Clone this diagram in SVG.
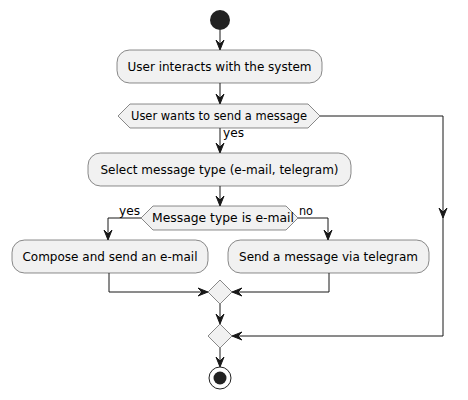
<svg xmlns="http://www.w3.org/2000/svg" width="468" height="400" viewBox="0 0 468 400">
<style>
.box{fill:#F1F1F1;stroke:#181818;stroke-width:0.5}
.t{font-family:"DejaVu Sans",sans-serif;font-size:12px;fill:#000;text-anchor:middle}
.s{font-family:"DejaVu Sans",sans-serif;font-size:11.5px;fill:#000}
.ln{fill:none;stroke:#181818;stroke-width:1}
.ah{fill:#181818;stroke:#181818;stroke-width:1}
</style>
<rect width="468" height="400" fill="#FFFFFF"/>
<g id="start"><circle cx="220" cy="20" r="10" fill="#222222"/></g>
<g id="n1"><rect class="box" x="117" y="50" width="205" height="33" rx="12.5"/><text class="t" x="219.5" y="71">User interacts with the system</text></g>
<g id="d1"><polygon class="box" points="118,116 130,104 308,104 320,116 308,128 130,128"/><text class="s" x="131" y="120" textLength="176" lengthAdjust="spacingAndGlyphs">User wants to send a message</text></g>
<g id="n2"><rect class="box" x="88" y="153" width="263" height="33" rx="12.5"/><text class="t" x="219.5" y="174">Select message type (e-mail, telegram)</text></g>
<g id="d2"><polygon class="box" points="141,218 153,206 286,206 298,218 286,230 153,230"/><text class="s" x="152" y="222" textLength="142" lengthAdjust="spacingAndGlyphs">Message type is e-mail</text></g>
<g id="n3"><rect class="box" x="12" y="240" width="196" height="33" rx="12.5"/><text class="t" x="110" y="261">Compose and send an e-mail</text></g>
<g id="n4"><rect class="box" x="228" y="240" width="201" height="33" rx="12.5"/><text class="t" x="328.5" y="261">Send a message via telegram</text></g>
<g id="m1"><polygon class="box" points="220,280 232,292 220,304 208,292"/></g>
<g id="m2"><polygon class="box" points="220,324 232,336 220,348 208,336"/></g>
<g id="end"><circle cx="220" cy="378" r="11" fill="none" stroke="#222222" stroke-width="1"/><circle cx="220" cy="378" r="6.5" fill="#222222"/></g>
<g id="connectors">
<line class="ln" x1="220" y1="30" x2="220" y2="49"/>
<polygon class="ah" points="216,40 220,50 224,40 220,44"/>
<line class="ln" x1="220" y1="83" x2="220" y2="103"/>
<polygon class="ah" points="216,94 220,104 224,94 220,98"/>
<line class="ln" x1="220" y1="128" x2="220" y2="152"/>
<polygon class="ah" points="216,143 220,153 224,143 220,147"/>
<text class="s" x="223" y="137" textLength="21" lengthAdjust="spacingAndGlyphs">yes</text>
<polyline class="ln" points="320,116 443,116 443,336 233,336"/>
<polygon class="ah" points="439,208 443,218 447,208 443,212"/>
<polygon class="ah" points="242,332 232,336 242,340 238,336"/>
<line class="ln" x1="220" y1="186" x2="220" y2="205"/>
<polygon class="ah" points="216,196 220,206 224,196 220,200"/>
<polyline class="ln" points="141,218 108,218 108,239"/>
<polygon class="ah" points="104,230 108,240 112,230 108,234"/>
<text class="s" x="119" y="215" textLength="21" lengthAdjust="spacingAndGlyphs">yes</text>
<polyline class="ln" points="298,218 328,218 328,239"/>
<polygon class="ah" points="324,230 328,240 332,230 328,234"/>
<text class="s" x="299" y="215" textLength="14" lengthAdjust="spacingAndGlyphs">no</text>
<polyline class="ln" points="109,273 109,292 207,292"/>
<polygon class="ah" points="198,288 208,292 198,296 202,292"/>
<polyline class="ln" points="329,273 329,292 233,292"/>
<polygon class="ah" points="242,288 232,292 242,296 238,292"/>
<line class="ln" x1="220" y1="304" x2="220" y2="323"/>
<polygon class="ah" points="216,314 220,324 224,314 220,318"/>
<line class="ln" x1="220" y1="348" x2="220" y2="366"/>
<polygon class="ah" points="216,357 220,367 224,357 220,361"/>
</g>
</svg>
